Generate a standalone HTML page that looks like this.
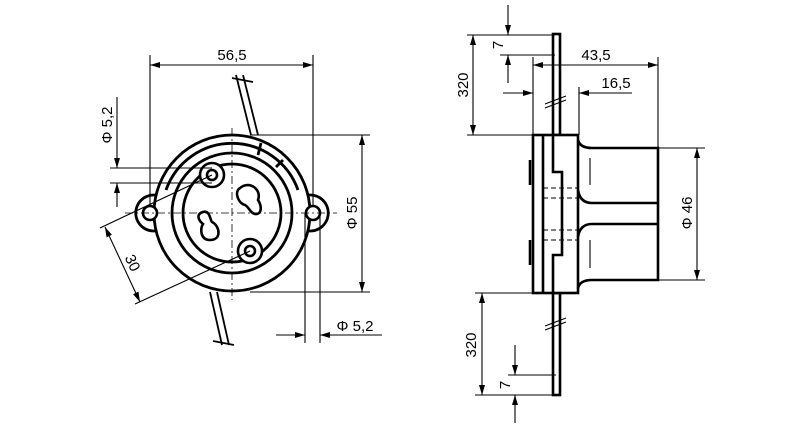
<!DOCTYPE html>
<html><head><meta charset="utf-8"><style>
html,body{margin:0;padding:0;background:#fff;}
svg{display:block;}
text{font-family:"Liberation Sans",sans-serif;font-size:15px;fill:#000;}
</style></head><body>
<svg width="800" height="429" viewBox="0 0 800 429" xmlns="http://www.w3.org/2000/svg">
<defs>
<marker id="a" viewBox="0 0 10 6" refX="10" refY="3" markerWidth="11" markerHeight="6" orient="auto-start-reverse" markerUnits="userSpaceOnUse"><path d="M0,0 L10,3 L0,6 z" fill="#000"/></marker>
</defs>
<g stroke="#000" fill="none">
<g stroke-width="1.8">
<line x1="236" y1="75" x2="251" y2="135"/><line x1="243" y1="75" x2="258" y2="135"/>
<line x1="232" y1="78" x2="253" y2="82"/>
<line x1="210" y1="292" x2="222" y2="345"/><line x1="217" y1="292" x2="229" y2="345"/>
<line x1="213" y1="341" x2="234" y2="345"/>
</g>
<g stroke-width="2.8">
<path d="M162,197 A18,18 0 1 0 162,229"/>
<path d="M302,197 A18,18 0 1 1 302,229"/>
<circle cx="232" cy="213" r="78" fill="#fff"/>
<path d="M166,190 A70,70 0 0 1 298,190"/>
<circle cx="232" cy="213" r="60"/>
<circle cx="232" cy="213" r="49"/>
<line x1="261" y1="143" x2="258" y2="155"/><line x1="283" y1="160" x2="276" y2="167"/>
</g>
<g stroke-width="2.6" fill="#fff">
<circle cx="150" cy="213" r="7"/><circle cx="313" cy="213" r="7"/>
<circle cx="212" cy="175" r="12"/><circle cx="212" cy="175" r="5"/>
<circle cx="250" cy="251" r="12"/><circle cx="250" cy="251" r="5"/>
<path d="M240,188 C250,180 262,190 258,200 C262,206 262,215 255,214 C250,213 249,207 245,205 C238,203 234,192 240,188 Z"/>
<path d="M203,212 C210,210 210,220 212,222 C220,226 222,240 210,240 C200,240 200,228 203,224 C198,220 196,214 203,212 Z"/>
</g>
<g stroke-width="0.8" stroke-dasharray="8,3,2,3">
<line x1="232" y1="128" x2="232" y2="300"/>
<line x1="125" y1="213" x2="337" y2="213"/>
</g>
<g stroke-width="1.1">
<line x1="150" y1="55" x2="150" y2="205"/><line x1="313" y1="55" x2="313" y2="205"/>
<line x1="150" y1="65" x2="313" y2="65" marker-start="url(#a)" marker-end="url(#a)"/>
<line x1="250" y1="135" x2="370" y2="135"/><line x1="250" y1="292" x2="370" y2="292"/>
<line x1="362" y1="135" x2="362" y2="292" marker-start="url(#a)" marker-end="url(#a)"/>
<line x1="110" y1="168" x2="212" y2="168"/><line x1="110" y1="183" x2="212" y2="183"/>
<line x1="117" y1="97" x2="117" y2="168" marker-end="url(#a)"/>
<line x1="117" y1="207" x2="117" y2="183" marker-end="url(#a)"/>
<line x1="305" y1="213" x2="305" y2="343"/><line x1="320" y1="213" x2="320" y2="343"/>
<line x1="276" y1="335" x2="305" y2="335" marker-end="url(#a)"/>
<line x1="382" y1="335" x2="320" y2="335" marker-end="url(#a)"/>
<line x1="212" y1="175" x2="100" y2="228"/><line x1="250" y1="251" x2="135" y2="304"/>
<line x1="105" y1="227" x2="140" y2="302" marker-start="url(#a)" marker-end="url(#a)"/>
</g>
<g stroke-width="2.6">
<rect x="553" y="34" width="7" height="101" fill="#fff"/>
<rect x="553" y="293" width="7" height="102" fill="#fff"/>
<rect x="533" y="135" width="45" height="158" fill="#fff"/>
<line x1="543" y1="135" x2="543" y2="293"/>
<path d="M553,135 V172 H562 V255 H553 V293"/>
<path d="M578,140 Q580,148 592,148 H658 V280 H592 Q580,280 578,288"/>
<path d="M578,190 Q580,203 592,203 H658"/><path d="M578,237 Q580,224 592,224 H658"/>
<line x1="530" y1="160" x2="530" y2="185"/><line x1="530" y1="240" x2="530" y2="265"/>
</g>
<g stroke-width="1.1">
<line x1="590" y1="158" x2="590" y2="185"/><line x1="590" y1="240" x2="590" y2="268"/>
<line x1="543" y1="188" x2="578" y2="188" stroke-dasharray="5,3"/>
<line x1="543" y1="198" x2="578" y2="198" stroke-dasharray="5,3"/>
<line x1="543" y1="230" x2="578" y2="230" stroke-dasharray="5,3"/>
<line x1="543" y1="240" x2="578" y2="240" stroke-dasharray="5,3"/>
<line x1="545" y1="104" x2="566" y2="96"/><line x1="545" y1="108" x2="566" y2="100"/>
<line x1="545" y1="326" x2="566" y2="318"/><line x1="545" y1="330" x2="566" y2="322"/>
<line x1="467" y1="35" x2="555" y2="35"/><line x1="467" y1="135" x2="533" y2="135"/>
<line x1="473" y1="35" x2="473" y2="135" marker-start="url(#a)" marker-end="url(#a)"/>
<line x1="500" y1="55" x2="555" y2="55"/>
<line x1="508" y1="5" x2="508" y2="35" marker-end="url(#a)"/>
<line x1="508" y1="83" x2="508" y2="55" marker-end="url(#a)"/>
<line x1="533" y1="57" x2="533" y2="135"/><line x1="658" y1="57" x2="658" y2="148"/>
<line x1="533" y1="65" x2="658" y2="65" marker-start="url(#a)" marker-end="url(#a)"/>
<line x1="579" y1="87" x2="579" y2="135"/>
<line x1="503" y1="93" x2="533" y2="93" marker-end="url(#a)"/>
<line x1="632" y1="93" x2="579" y2="93" marker-end="url(#a)"/>
<line x1="658" y1="148" x2="705" y2="148"/><line x1="658" y1="280" x2="705" y2="280"/>
<line x1="697" y1="148" x2="697" y2="280" marker-start="url(#a)" marker-end="url(#a)"/>
<line x1="475" y1="293" x2="533" y2="293"/><line x1="475" y1="395" x2="556" y2="395"/>
<line x1="482" y1="293" x2="482" y2="395" marker-start="url(#a)" marker-end="url(#a)"/>
<line x1="508" y1="375" x2="556" y2="375"/>
<line x1="515" y1="345" x2="515" y2="375" marker-end="url(#a)"/>
<line x1="515" y1="423" x2="515" y2="395" marker-end="url(#a)"/>
</g>
</g>
<text x="232" y="60" text-anchor="middle">56,5</text>
<text transform="translate(112,125) rotate(-90)" text-anchor="middle">Φ 5,2</text>
<text transform="translate(357,213) rotate(-90)" text-anchor="middle">Φ 55</text>
<text x="355" y="331" text-anchor="middle">Φ 5,2</text>
<text transform="translate(128,265) rotate(65)" text-anchor="middle">30</text>
<text x="596" y="60" text-anchor="middle">43,5</text>
<text x="616" y="88" text-anchor="middle">16,5</text>
<text transform="translate(468,85) rotate(-90)" text-anchor="middle">320</text>
<text transform="translate(503,45) rotate(-90)" text-anchor="middle">7</text>
<text transform="translate(692,213) rotate(-90)" text-anchor="middle">Φ 46</text>
<text transform="translate(476,345) rotate(-90)" text-anchor="middle">320</text>
<text transform="translate(510,385) rotate(-90)" text-anchor="middle">7</text>
</svg>
</body></html>
